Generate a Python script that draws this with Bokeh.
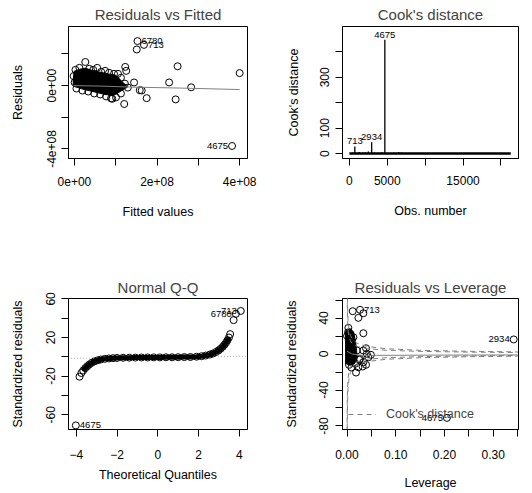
from bokeh.plotting import figure
from bokeh.layouts import gridplot
from bokeh.models import ColumnDataSource, FixedTicker, Label, Legend, LegendItem, Range1d
from bokeh.core.properties import value
from bokeh.embed import file_html
from bokeh.resources import INLINE

FONT = "Liberation Sans"
GRAY = "#808080"

# ---------------- Panel 1: Residuals vs Fitted ----------------
rf_fitted = [1.526e8, 1.684e8, 1.509e8, 2.498e8, 4.0e8, 2.292e8, 2.826e8, 1.444e8, 1.749e8,
             2.45e8, 1.205e8, 1.581e8, 1.629e8, 1.229e8, 1.253e8, 9.17e7, 3.816e8, 2.63e7]
rf_resid = [2.81e8, 2.57e8, 2.28e8, 1.22e8, 7.9e7, 2.0e7, -1.06e7, 2.0e7, -7.9e7,
            -8.7e7, -1.16e8, -2.9e7, -3.1e7, 1.18e8, 9.3e7, -8.3e7, -3.81e8, 1.49e8]
rf_dense_fitted = [2.4e6, 1.2e7, 3.59e7, 4.55e7, 5.51e7, 6.47e7, 7.42e7, 8.38e7, 9.58e7, 1.054e8,
                   1.126e8, 1.221e8, 1.293e8, 4.8e6, 1.92e7, 3.35e7, 4.79e7, 6.23e7, 7.66e7,
                   8.86e7, 1.006e8, 1.126e8, -2.0e6, 0.5e6]
rf_dense_resid = [9.94e7, 1.12e8, 1.06e8, 9.94e7, 1.12e8, 8.69e7, 9.32e7, 8.07e7, 7.45e7, 7.45e7,
                  4.97e7, 1.24e7, -1.24e7, -1.86e7, -3.11e7, -3.73e7, -4.97e7, -5.59e7, -6.83e7,
                  -8.07e7, -7.45e7, -4.97e7, 6.0e7, 2.0e7]
rf_hull_fitted = [-3.0e6, -1.0e6, 1.2e7, 2.63e7, 4.07e7, 5.99e7, 7.9e7, 9.6e7, 1.06e8, 1.15e8,
                  1.24e8, 1.28e8, 1.2e8, 1.06e8, 9.3e7, 7.4e7, 5.5e7, 3.6e7, 1.7e7, 2.4e6, -3.0e6]
rf_hull_resid = [3.7e7, 9.0e7, 1.03e8, 1.1e8, 9.8e7, 8.6e7, 7.5e7, 6.8e7, 5.2e7, 2.4e7,
                 6.0e6, -1.0e7, -2.2e7, -4.5e7, -6.2e7, -5.6e7, -4.4e7, -3.2e7, -2.0e7, -8.0e6, 0.0]
rf_smooth_fitted = [-2.4e6, 6.47e7, 1.365e8, 2.563e8, 4.0e8]
rf_smooth_resid = [0.0, -3.1e6, -9.3e6, -1.55e7, -2.48e7]
rf_id_fitted = [1.526e8, 1.684e8, 3.816e8]
rf_id_resid = [2.81e8, 2.57e8, -3.81e8]
rf_id_label = ["6780", "713", "4675"]

# ---------------- Panel 2: Cook's distance ----------------
n_obs = 21300
cook_obs = [150, 420, 713, 980, 1300, 1750, 2100, 2500, 2934, 3300, 3900, 4300, 4675, 5200,
            5900, 6500, 6900, 7400, 8200, 9500, 11000, 12500, 14000, 15500, 17000, 18500, 20000, 21000]
cook_d = [2, 4, 28, 3, 6, 3, 5, 8, 45, 4, 3, 5, 448, 2,
          3, 6, 4, 2, 2, 1, 2, 1, 1, 2, 1, 1, 1, 1]
cook_id_obs = [713, 2934, 4675]
cook_id_d = [28, 45, 448]
cook_id_label = ["713", "2934", "4675"]

# ---------------- Panel 3: Normal Q-Q ----------------
qq_theo = [-3.84, -3.75, -3.66, -3.56, -3.46, -3.36, -3.24, -3.1, -2.95, -2.8, -2.6, -2.4, -2.2,
           -2.0, -1.7, -1.4, -1.1, -0.8, -0.5, -0.2, 0.1, 0.4, 0.7, 1.0, 1.3, 1.6, 1.9, 2.15,
           2.35, 2.55, 2.7, 2.85, 2.97, 3.08, 3.18, 3.27, 3.35, 3.42, 3.49, 3.55]
qq_std = [-20.6, -16.8, -14.2, -11.8, -9.8, -8.0, -6.2, -4.7, -3.6, -2.8, -2.1, -1.7, -1.4,
          -1.2, -1.0, -0.9, -0.8, -0.7, -0.7, -0.6, -0.6, -0.5, -0.5, -0.4, -0.3, -0.2, 0.1, 0.6,
          1.3, 2.3, 3.4, 4.9, 6.5, 8.3, 10.3, 12.5, 14.8, 17.2, 20.0, 23.5]
qq_out_theo = [-4.02, 3.72, 3.83, 4.07]
qq_out_std = [-71.1, 38.0, 44.5, 47.5]
qq_id_theo = [-4.02, 3.83, 4.07]
qq_id_std = [-71.1, 44.5, 47.5]
qq_id_label = ["4675", "6780", "713"]
qq_line_theo = [-4.4, 4.4]
qq_line_std = [-1.6, 0.6]

# ---------------- Panel 4: Residuals vs Leverage ----------------
lev_h = [0.0117, 0.0267, 0.0335, 0.0233, 0.0335, 0.0027, 0.013, 0.02, 0.0335, 0.0405, 0.0438,
         0.0267, 0.0335, 0.0165, 0.0233, 0.0185, 0.039, 0.049, 0.0253, 0.039, 0.032, 0.0,
         0.002, 0.008, 0.012, 0.004, 0.009, 0.342, 0.205]
lev_r = [47.6, 49.1, 45.3, 40.2, 23.1, 29.1, 18.7, 3.9, 3.9, 0.2, -3.6,
         -5.3, -9.1, -10.9, -14.7, -20.6, 6.4, -0.9, -6.4, -12.0, -13.9, 20.0,
         24.0, 12.0, -2.0, -12.0, -15.0, 16.2, -71.0]
lev_hull_h = [-0.003, 0.0062, 0.0135, 0.0175, 0.0195, 0.021, 0.016, 0.0062, -0.003]
lev_hull_r = [25.0, 28.5, 24.5, 14.0, 3.9, -4.5, -10.5, -12.5, -10.5]
lev_id_h = [0.0267, 0.342, 0.205]
lev_id_r = [49.1, 16.2, -71.0]
lev_id_label = ["713", "2934", "4675"]
cook_h = [0.0002, 0.0005, 0.001, 0.002, 0.004, 0.007, 0.01, 0.02, 0.04, 0.08, 0.15, 0.25, 0.35]
cook_05 = [86.6, 54.8, 38.7, 27.4, 19.3, 14.6, 12.2, 8.57, 6.0, 4.15, 2.92, 2.12, 1.67]
cook_10 = [122.5, 77.4, 54.7, 38.7, 27.3, 20.6, 17.2, 12.1, 8.49, 5.87, 4.12, 3.0, 2.36]
cook_levels = ["0.5", "1"]
lev_smooth_h = [0.0, 0.01, 0.03, 0.06, 0.2, 0.35]
lev_smooth_r = [3.0, 0.0, -1.5, -1.5, -1.2, -1.0]


def make_fig(xr, yr, w, h, left, right, top, bottom, title, xlabel, ylabel,
             xticks, xover, yticks, yover, xstand, xlstand, ystand, ylstand, tstand):
    p = figure(width=w, height=h, x_range=Range1d(*xr), y_range=Range1d(*yr),
               output_backend="svg", toolbar_location=None, title=title,
               min_border_left=left, min_border_right=right,
               min_border_top=top, min_border_bottom=bottom)
    p.title.text_font = FONT
    p.title.text_font_size = "15px"
    p.title.text_font_style = "normal"
    p.title.align = "center"
    p.title.standoff = tstand
    p.grid.visible = False
    p.outline_line_color = "black"
    p.outline_line_alpha = 1
    p.background_fill_color = "white"
    p.border_fill_color = "white"
    for ax in (p.xaxis[0], p.yaxis[0]):
        ax.major_tick_out = 7
        ax.major_tick_in = 0
        ax.minor_tick_out = 0
        ax.minor_tick_in = 0
        ax.axis_line_color = "black"
        ax.major_tick_line_color = "black"
        ax.major_label_text_font = FONT
        ax.major_label_text_font_size = "12px"
        ax.major_label_text_color = "black"
        ax.axis_label_text_font = FONT
        ax.axis_label_text_font_size = "12.5px"
        ax.axis_label_text_font_style = "normal"
        ax.axis_label_text_color = "black"
    xa, ya = p.xaxis[0], p.yaxis[0]
    xa.axis_label = xlabel
    ya.axis_label = ylabel
    xa.ticker = FixedTicker(ticks=xticks)
    ya.ticker = FixedTicker(ticks=yticks)
    xa.major_label_overrides = xover
    ya.major_label_overrides = yover
    ya.major_label_orientation = "vertical"
    xa.major_label_standoff = xstand
    xa.axis_label_standoff = xlstand
    ya.major_label_standoff = ystand
    ya.axis_label_standoff = ylstand
    return p


def id_text(p, xs, ys, labels, align, xoff, yoff=0, baseline="middle"):
    src = ColumnDataSource(dict(x=xs, y=ys, t=labels))
    p.text(x="x", y="y", text="t", source=src, text_font=value(FONT), text_font_size="9.5px",
           text_align=align, text_baseline=baseline, x_offset=xoff, y_offset=yoff, text_color="black")


def circles(p, xs, ys):
    p.scatter(x=xs, y=ys, marker="circle", size=7, fill_color=None, line_color="black", line_width=1)


# Panel 1
p1 = make_fig((-1.44e7, 4.19e8), (-4.6e8, 3.73e8), 266, 246, 67, 18, 24, 88,
              "Residuals vs Fitted", "Fitted values", "Residuals",
              [0, 1e8, 2e8, 3e8, 4e8], {0: "0e+00", 1e8: "", 2e8: "2e+08", 3e8: "", 4e8: "4e+08"},
              [-4e8, -2e8, 0, 2e8], {-4e8: "-4e+08", -2e8: "", 0: "0e+00", 2e8: ""},
              11, 16, 5, 20, 7)
p1.patch(rf_hull_fitted, rf_hull_resid, fill_color="black", line_color="black")
circles(p1, rf_dense_fitted, rf_dense_resid)
circles(p1, rf_fitted, rf_resid)
p1.line(rf_smooth_fitted, rf_smooth_resid, line_color=GRAY, line_width=1)
id_text(p1, rf_id_fitted[:2], rf_id_resid[:2], rf_id_label[:2], "left", 4)
id_text(p1, rf_id_fitted[2:], rf_id_resid[2:], rf_id_label[2:], "right", -4)

# Panel 2
p2 = make_fig((-914, 22320), (-19.4, 500), 266, 246, 74, 14, 25, 87,
              "Cook's distance", "Obs. number", "Cook's distance",
              [0, 5000, 10000, 15000, 20000], {0: "0", 5000: "5000", 10000: "", 15000: "15000", 20000: ""},
              [0, 100, 200, 300, 400], {0: "0", 100: "100", 200: "", 300: "300", 400: ""},
              10, 16, 6, 17, 7)
p2.segment(x0=[1], y0=[0], x1=[n_obs], y1=[0], line_color="black", line_width=2.5)
src2 = ColumnDataSource(dict(x=cook_obs, y0=[0] * len(cook_obs), y1=cook_d))
p2.segment(x0="x", y0="y0", x1="x", y1="y1", source=src2, line_color="black", line_width=1.3)
id_text(p2, cook_id_obs, cook_id_d, cook_id_label, "center", 0, -2, "bottom")

# Panel 3
p3 = make_fig((-4.38, 4.40), (-75.3, 60.4), 266, 247, 68, 19, 52, 64,
              "Normal Q-Q", "Theoretical Quantiles", "Standardized residuals",
              [-4, -2, 0, 2, 4], {},
              [-60, -40, -20, 0, 20, 40, 60], {-60: "-60", -40: "", -20: "-20", 0: "", 20: "20", 40: "", 60: "60"},
              13, 6, 6, 19, 5)
p3.line(qq_line_theo, qq_line_std, line_color="#b0b0b0", line_dash="1 2", line_width=1)
p3.line(qq_theo[2:-1], qq_std[2:-1], line_color="black", line_width=5)
circles(p3, qq_theo, qq_std)
circles(p3, qq_out_theo, qq_out_std)
id_text(p3, qq_id_theo[:1], qq_id_std[:1], qq_id_label[:1], "left", 4)
id_text(p3, qq_id_theo[1:], qq_id_std[1:], qq_id_label[1:], "right", -4)

# Panel 4
p4 = make_fig((-0.0093, 0.3519), (-83.9, 61.7), 266, 247, 76, 14, 52, 64,
              "Residuals vs Leverage", "Leverage", "Standardized residuals",
              [0, 0.05, 0.1, 0.15, 0.2, 0.25, 0.3, 0.35],
              {0: "0.00", 0.05: "", 0.1: "0.10", 0.15: "", 0.2: "0.20", 0.25: "", 0.3: "0.30", 0.35: ""},
              [-80, -60, -40, -20, 0, 20, 40, 60],
              {-80: "-80", -60: "", -40: "-40", -20: "", 0: "0", 20: "", 40: "40", 60: ""},
              13, 14, 7, 18, 5)
p4.patch(lev_hull_h, lev_hull_r, fill_color="black", line_color="black")
circles(p4, lev_h, lev_r)
p4.line(lev_smooth_h, lev_smooth_r, line_color=GRAY, line_width=1)
cr = p4.line(cook_h, cook_05, line_color=GRAY, line_dash="5 4", line_width=1)
p4.line(cook_h, [-v for v in cook_05], line_color=GRAY, line_dash="5 4", line_width=1)
p4.line(cook_h, cook_10, line_color=GRAY, line_dash="5 4", line_width=1)
p4.line(cook_h, [-v for v in cook_10], line_color=GRAY, line_dash="5 4", line_width=1)
id_text(p4, lev_id_h[:1], lev_id_r[:1], lev_id_label[:1], "left", 4)
id_text(p4, lev_id_h[1:], lev_id_r[1:], lev_id_label[1:], "right", -4)
for lvl, yv in ((cook_levels[0], cook_05[-1]), (cook_levels[1], cook_10[-1]),
                (cook_levels[0], -cook_05[-1]), (cook_levels[1], -cook_10[-1])):
    p4.add_layout(Label(x=cook_h[-1], y=yv, text=lvl, x_offset=1, text_baseline="middle",
                        text_font=FONT, text_font_size="7.5px", text_color=GRAY))
leg = Legend(items=[LegendItem(label="Cook's distance", renderers=[cr])], location=(4, 3))
leg.background_fill_alpha = 0
leg.border_line_alpha = 0
leg.label_text_font = FONT
leg.label_text_font_size = "12.5px"
leg.glyph_width = 28
leg.label_standoff = 10
leg.padding = 2
leg.margin = 0
p4.add_layout(leg)

grid = gridplot([[p1, p2], [p3, p4]], toolbar_location=None)
open("out.html", "w").write(file_html(grid, INLINE))
